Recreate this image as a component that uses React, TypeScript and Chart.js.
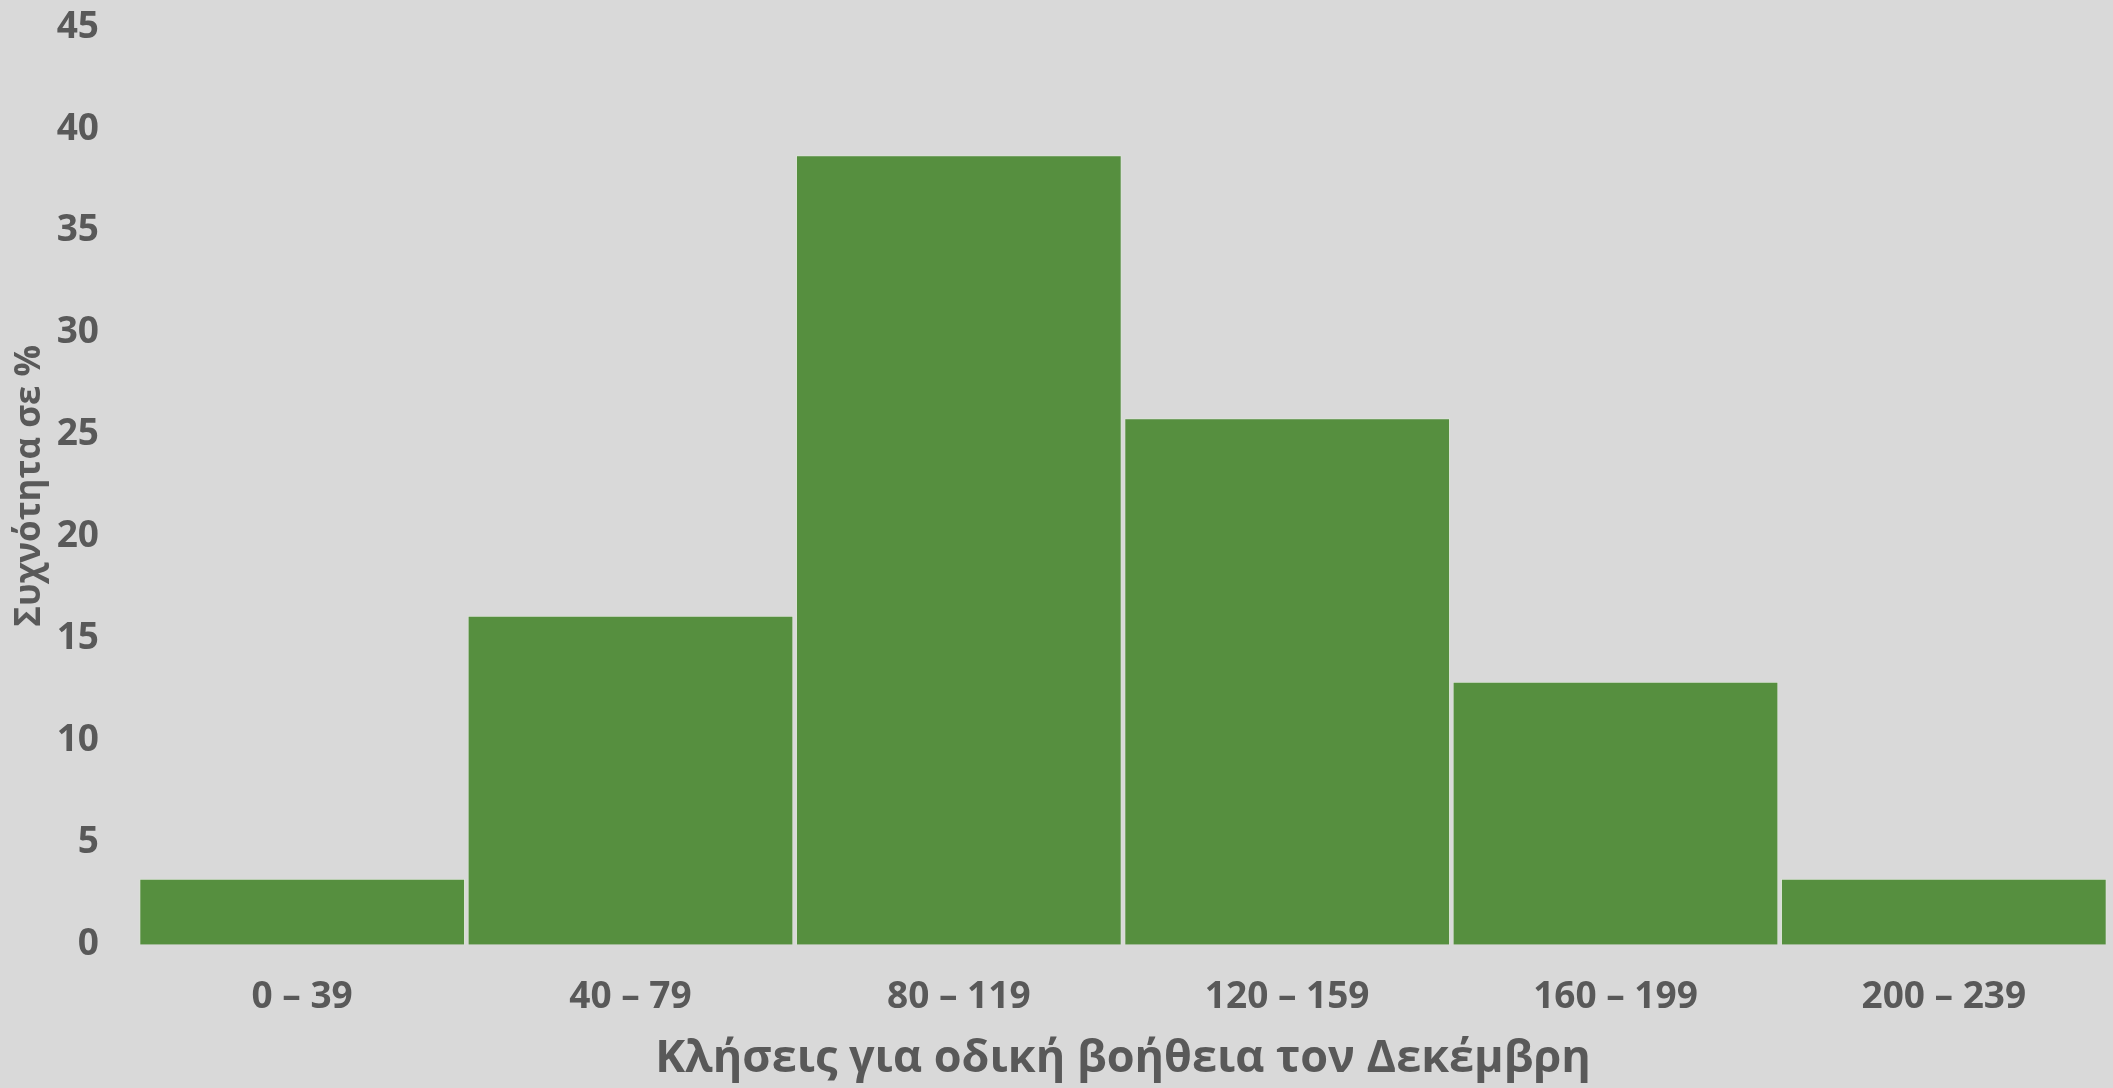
import { useEffect, useRef } from "react";
import { Chart, registerables } from "chart.js";

Chart.register(...registerables);

// Histogram of December roadside-assistance calls per day (31 days)
const categories = ["0 – 39", "40 – 79", "80 – 119", "120 – 159", "160 – 199", "200 – 239"];
const frequencies = [3.23, 16.13, 38.71, 25.81, 12.9, 3.23];
const yMin = 0;
const yMax = 45;
const yStep = 5;
const xTitle = "Κλήσεις για οδική βοήθεια τον Δεκέμβρη";
const yTitle = "Συχνότητα σε %";

const W = 2113;
const H = 1088;
const TEXT = "#595959";
const FONT = "'Open Sans', 'Noto Sans', 'DejaVu Sans', sans-serif";

export default function App() {
  const ref = useRef<HTMLCanvasElement | null>(null);

  useEffect(() => {
    if (!ref.current) return;
    const chart = new Chart(ref.current, {
      type: "bar",
      data: {
        labels: categories,
        datasets: [
          {
            data: frequencies,
            backgroundColor: "#568f3f",
            borderColor: "rgba(220, 232, 214, 0.75)",
            borderWidth: 1,
            barPercentage: 0.992,
            categoryPercentage: 1,
          },
        ],
      },
      options: {
        responsive: false,
        animation: false,
        layout: { padding: { top: 0, right: 5, left: 0, bottom: 0 } },
        plugins: { legend: { display: false }, tooltip: { enabled: false } },
        scales: {
          x: {
            grid: { display: false },
            border: { display: false },
            ticks: {
              color: TEXT,
              padding: 23,
              font: { family: FONT, size: 37, weight: "bold" },
            },
            title: {
              display: true,
              text: xTitle,
              color: TEXT,
              padding: { top: 0, bottom: 2 },
              font: { family: FONT, size: 45, weight: "bold" },
            },
            afterFit: (s: any) => {
              s.height = 143.3;
            },
          },
          y: {
            min: yMin,
            max: yMax,
            grid: { display: false },
            border: { display: false },
            ticks: {
              stepSize: yStep,
              color: TEXT,
              padding: 31,
              font: { family: FONT, size: 37, weight: "bold" },
            },
            title: {
              display: true,
              text: yTitle,
              color: TEXT,
              padding: { top: 9, bottom: 0 },
              font: { family: FONT, size: 35, weight: "bold" },
            },
            afterFit: (s: any) => {
              s.width = 138;
              // keep the plot top at the "45" label line
              s.paddingTop = 27;
              s.paddingBottom = 0;
            },
          },
        },
      },
    });
    return () => chart.destroy();
  }, []);

  return (
    <div
      style={{
        position: "fixed",
        left: 0,
        top: 0,
        width: W,
        height: H,
        background: "#d9d9d9",
      }}
    >
      <canvas ref={ref} width={W} height={H} style={{ display: "block" }} />
    </div>
  );
}
